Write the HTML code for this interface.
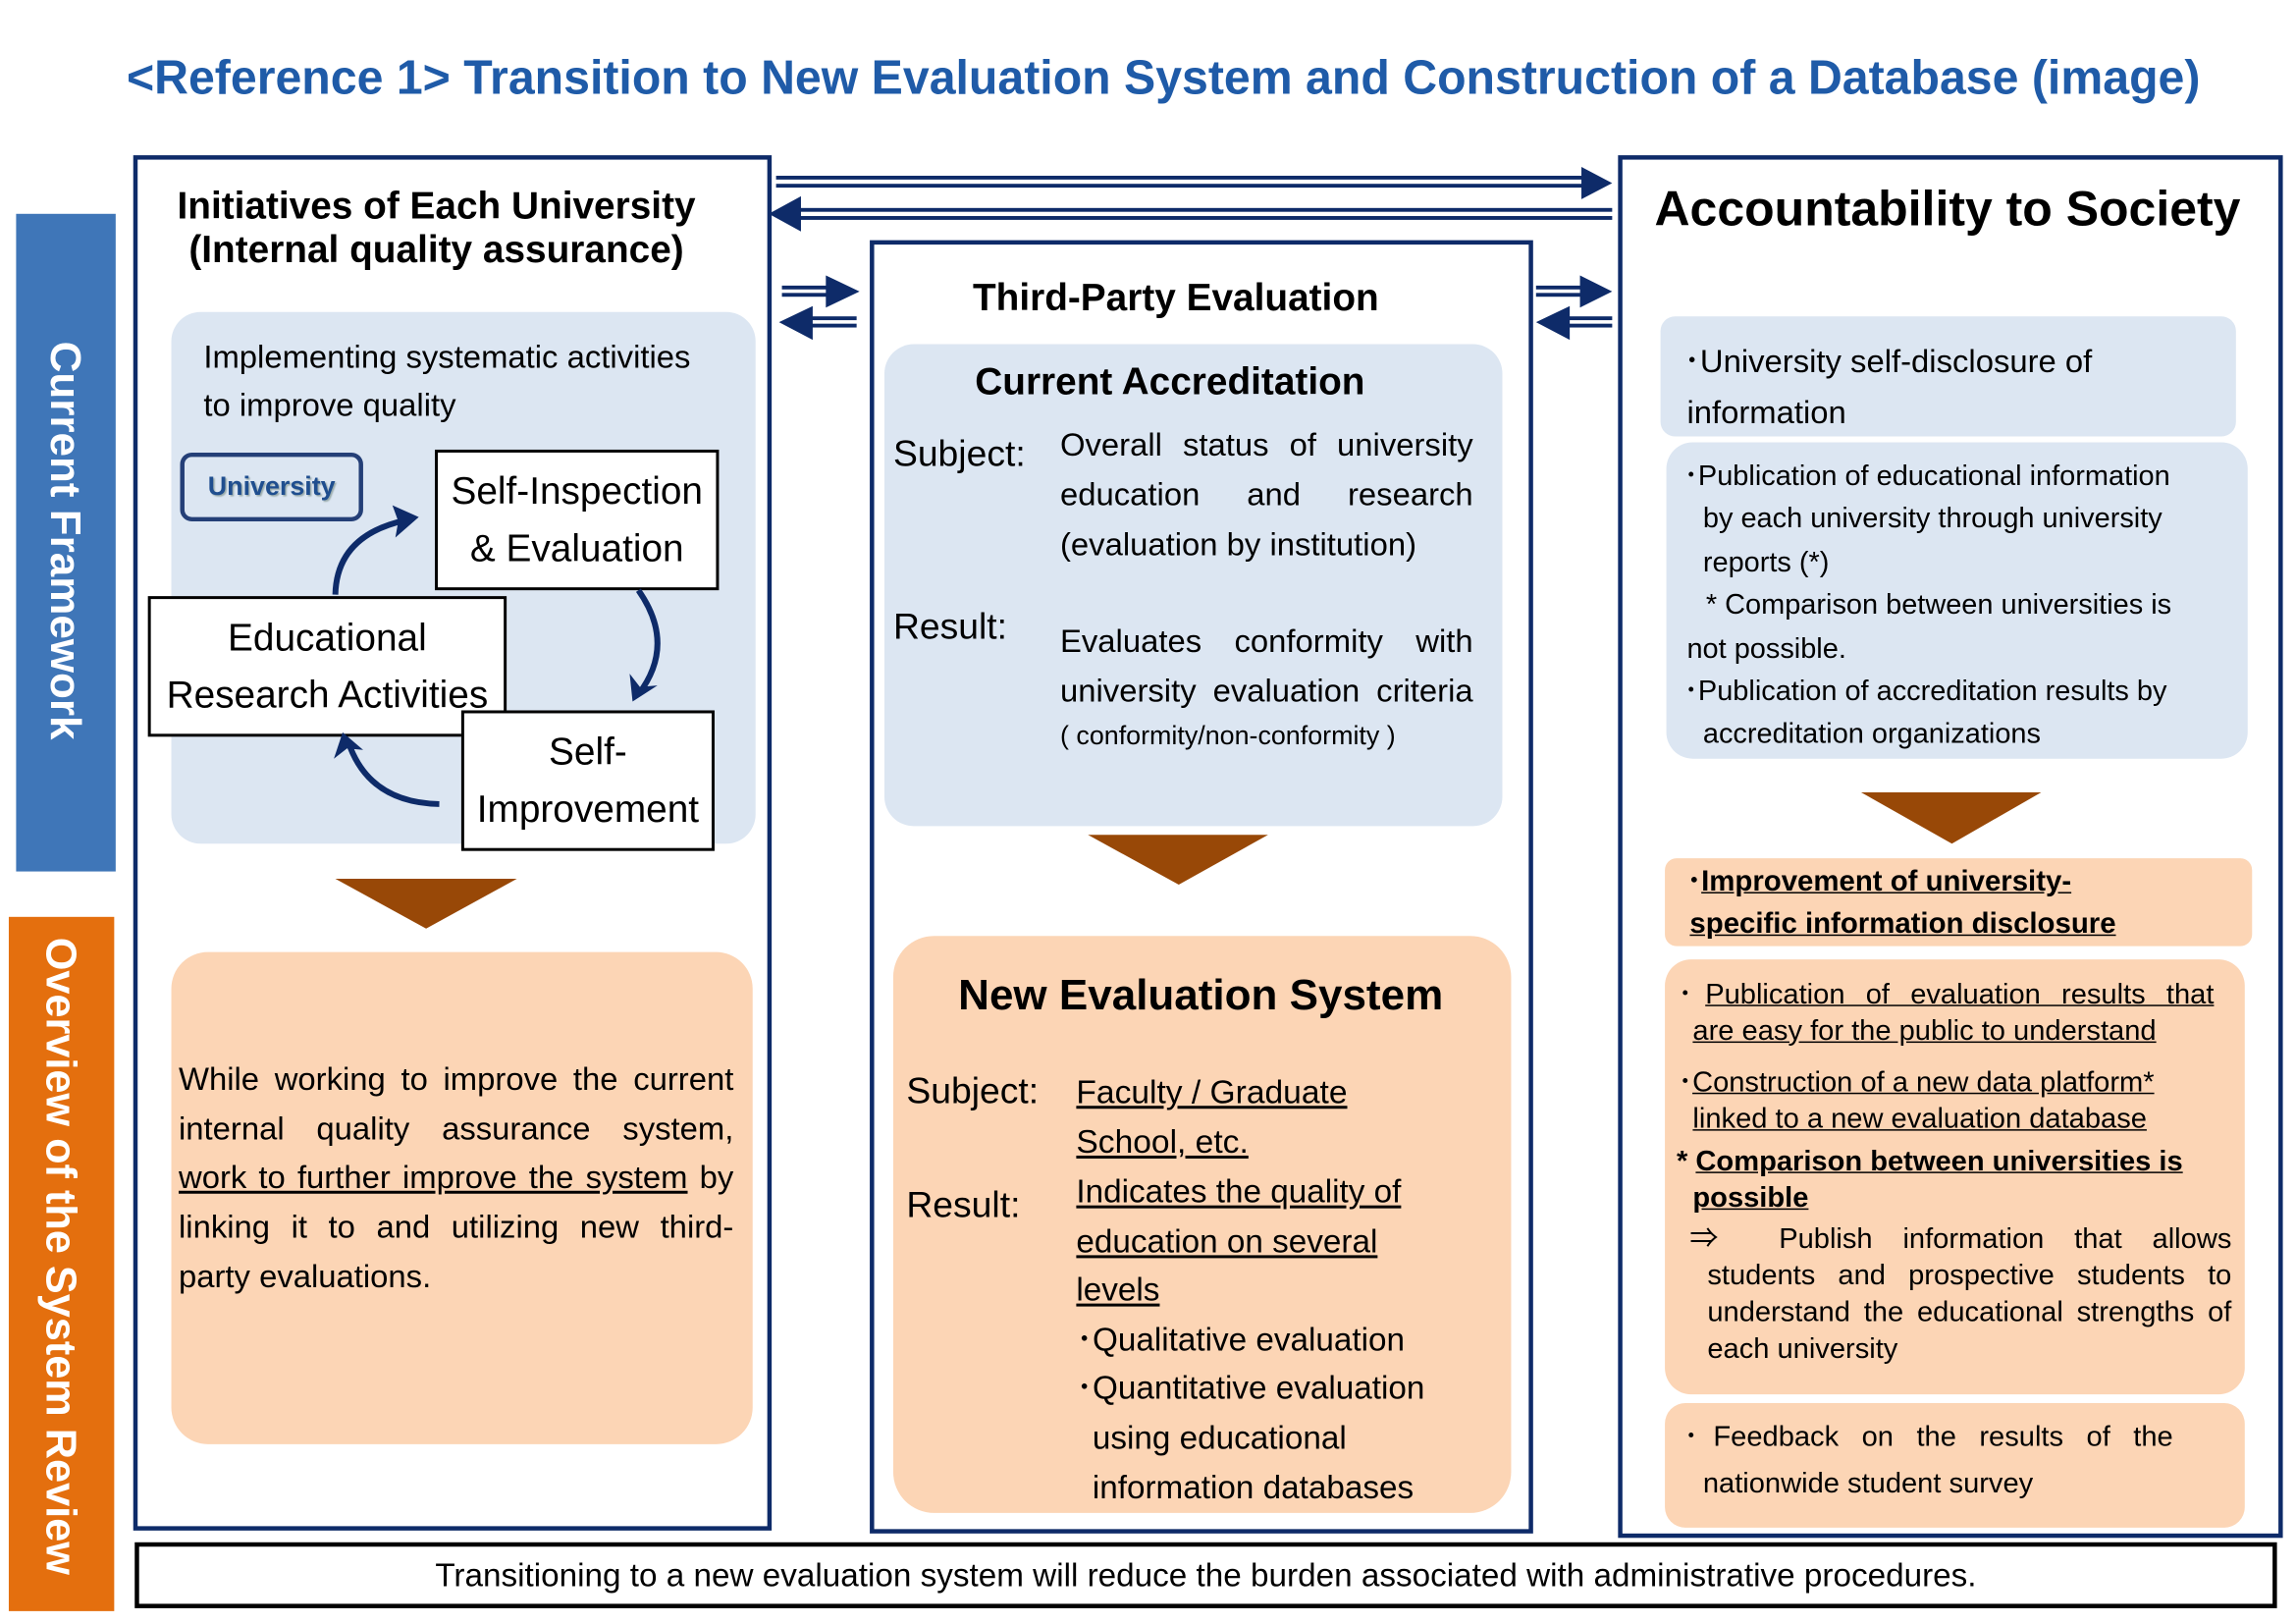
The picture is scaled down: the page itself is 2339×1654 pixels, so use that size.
<!DOCTYPE html>
<html><head><meta charset="utf-8"><style>
html,body{margin:0;padding:0;background:#fff;}
body{width:2339px;height:1654px;overflow:hidden;position:relative;}
#c{position:absolute;left:0;top:0;width:1568px;height:1109px;transform:scale(1.49171);transform-origin:0 0;font-family:"Liberation Sans","Noto Sans CJK JP",sans-serif;color:#000;}
.a{position:absolute;}
.box{position:absolute;box-sizing:border-box;}
.nav{border:3px solid #0e2b69;background:#fff;}
.lb{background:#dce6f2;}
.or{background:#fcd5b5;}
.wb{background:#fff;border:2px solid #000;display:flex;align-items:center;justify-content:center;text-align:center;font-size:26px;line-height:39px;white-space:nowrap;}
.j{text-align:justify;text-align-last:justify;white-space:nowrap;}
.u{text-decoration:underline;}
.b{font-weight:bold;}
.vt{writing-mode:vertical-rl;color:#fff;font-weight:bold;position:absolute;white-space:nowrap;}
</style></head><body><div id="c">

<div class="a" style="left:0;top:34px;width:1590px;text-align:center;"><span style="display:inline-block;font-size:33px;font-weight:bold;color:#1f5ba8;transform:scaleX(0.98);white-space:nowrap;">&lt;Reference 1&gt; Transition to New Evaluation System and Construction of a Database (image)</span></div>

<div class="box" style="left:11px;top:146px;width:68px;height:449px;background:#3f76b8;"></div>
<div class="vt" style="left:28px;top:233px;font-size:29.5px;line-height:32px;">Current Framework</div>
<div class="box" style="left:6px;top:626px;width:72px;height:474px;background:#e46f0e;"></div>
<div class="vt" style="left:25px;top:640px;font-size:29px;line-height:32px;">Overview of the System Review</div>

<div class="box nav" style="left:91px;top:106px;width:436px;height:939px;"></div>
<div class="box nav" style="left:594px;top:164px;width:453px;height:883px;"></div>
<div class="box nav" style="left:1105px;top:106px;width:454px;height:944px;"></div>

<!-- LEFT -->
<div class="a b" style="left:60px;top:125px;width:476px;text-align:center;font-size:26px;line-height:30px;">Initiatives of Each University<br>(Internal quality assurance)</div>
<div class="box lb" style="left:117px;top:213px;width:399px;height:363px;border-radius:20px;"></div>
<div class="a" style="left:139px;top:227px;font-size:22px;line-height:33px;white-space:nowrap;">Implementing systematic activities<br>to improve quality</div>
<div class="box" style="left:123px;top:309px;width:125px;height:47px;border:3px solid #243f77;border-radius:8px;display:flex;align-items:center;justify-content:center;color:#1f4e8f;font-weight:bold;font-size:18px;text-shadow:1px 1px 1px #9aa;">University</div>
<div class="box wb" style="left:297px;top:307px;width:194px;height:96px;">Self-Inspection<br>&amp; Evaluation</div>
<div class="box wb" style="left:101px;top:407px;width:245px;height:96px;">Educational<br>Research Activities</div>
<div class="box wb" style="left:315px;top:485px;width:173px;height:96px;">Self-<br>Improvement</div>
<div class="box or" style="left:117px;top:650px;width:397px;height:336px;border-radius:25px;"></div>
<div class="a" style="left:122px;top:720px;width:379px;font-size:22px;line-height:33.7px;">
<div class="j">While working to improve the current</div>
<div class="j">internal quality assurance system,</div>
<div class="j"><span class="u">work to further improve the system</span> by</div>
<div class="j">linking it to and utilizing new third-</div>
<div>party evaluations.</div></div>

<!-- MIDDLE -->
<div class="a b" style="left:603px;top:188px;width:400px;text-align:center;font-size:26px;line-height:30px;">Third-Party Evaluation</div>
<div class="box lb" style="left:604px;top:235px;width:422px;height:329px;border-radius:20px;"></div>
<div class="a b" style="left:599px;top:245px;width:400px;text-align:center;font-size:26px;line-height:30px;">Current Accreditation</div>
<div class="a" style="left:610px;top:295px;font-size:25px;line-height:30px;">Subject:</div>
<div class="a" style="left:724px;top:287px;width:282px;font-size:22px;line-height:34px;">
<div class="j">Overall status of university</div><div class="j">education and research</div><div style="white-space:nowrap">(evaluation by institution)</div></div>
<div class="a" style="left:610px;top:413px;font-size:25px;line-height:30px;">Result:</div>
<div class="a" style="left:724px;top:421px;width:282px;font-size:22px;line-height:34px;">
<div class="j">Evaluates conformity with</div><div class="j">university evaluation criteria</div></div>
<div class="a" style="left:724px;top:491px;font-size:18px;line-height:22px;white-space:nowrap;">( conformity/non-conformity )</div>

<div class="box or" style="left:610px;top:639px;width:422px;height:394px;border-radius:28px;"></div>
<div class="a b" style="left:620px;top:663px;width:400px;text-align:center;font-size:29.5px;line-height:34px;white-space:nowrap;">New Evaluation System</div>
<div class="a" style="left:619px;top:730px;font-size:25px;line-height:30px;">Subject:</div>
<div class="a u" style="left:735px;top:729px;font-size:22.5px;line-height:34px;white-space:nowrap;">Faculty / Graduate<br>School, etc.</div>
<div class="a" style="left:619px;top:808px;font-size:25px;line-height:30px;">Result:</div>
<div class="a" style="left:735px;top:797px;font-size:22.3px;line-height:33.6px;white-space:nowrap;">
<div class="u">Indicates the quality of</div><div class="u">education on several</div><div class="u">levels</div>
<div>･Qualitative evaluation</div><div>･Quantitative evaluation</div><div style="padding-left:11px;">using educational</div><div style="padding-left:11px;">information databases</div></div>

<!-- RIGHT -->
<div class="a b" style="left:1115px;top:125px;width:430px;text-align:center;font-size:33.5px;line-height:38px;white-space:nowrap;">Accountability to Society</div>
<div class="box lb" style="left:1134px;top:216px;width:393px;height:82px;border-radius:10px;"></div>
<div class="a" style="left:1150px;top:229px;font-size:22px;line-height:35px;white-space:nowrap;">･University self-disclosure of<br><span style="padding-left:2px">information</span></div>
<div class="box lb" style="left:1138px;top:302px;width:397px;height:216px;border-radius:18px;"></div>
<div class="a" style="left:1150px;top:311px;font-size:19.4px;line-height:29.4px;white-space:nowrap;">
<div>･Publication of educational information</div>
<div style="padding-left:13px">by each university through university</div>
<div style="padding-left:13px">reports (*)</div>
<div style="padding-left:15px">* Comparison between universities is</div>
<div style="padding-left:2px">not possible.</div>
<div>･Publication of accreditation results by</div>
<div style="padding-left:13px">accreditation organizations</div></div>

<div class="box or" style="left:1137px;top:586px;width:401px;height:60px;border-radius:8px;"></div>
<div class="a b" style="left:1152px;top:588px;font-size:19.7px;line-height:29px;white-space:nowrap;">･<span class="u">Improvement of university-</span><br><span class="u" style="padding-left:2px">specific information disclosure</span></div>

<div class="box or" style="left:1137px;top:655px;width:396px;height:297px;border-radius:18px;"></div>
<div class="a" style="left:1146px;top:667px;width:366px;font-size:19.5px;line-height:24.5px;">
<div class="j">･<span class="u">Publication of evaluation results that</span></div>
<div style="padding-left:10px;white-space:nowrap" class="u">are easy for the public to understand</div>
<div style="height:11px"></div>
<div style="white-space:nowrap">･<span class="u">Construction of a new data platform*</span></div>
<div style="padding-left:10px;white-space:nowrap" class="u">linked to a new evaluation database</div></div>
<div class="a b" style="left:1145px;top:781px;font-size:19.5px;line-height:25px;white-space:nowrap;">* <span class="u">Comparison between universities is</span><br><span class="u" style="padding-left:11px">possible</span></div>
<div class="a" style="left:1154px;top:834px;width:370px;font-size:19.5px;line-height:25px;">
<div class="j">⇒&nbsp; Publish information that allows</div>
<div style="padding-left:12px" class="j">students and prospective students to</div>
<div style="padding-left:12px" class="j">understand the educational strengths of</div>
<div style="padding-left:12px">each university</div></div>

<div class="box or" style="left:1137px;top:958px;width:396px;height:85px;border-radius:14px;"></div>
<div class="a" style="left:1150px;top:965px;width:334px;font-size:19.5px;line-height:32px;">
<div class="j">･Feedback on the results of the</div><div style="padding-left:13px;white-space:nowrap">nationwide student survey</div></div>

<div class="box" style="left:92px;top:1053px;width:1463px;height:45px;border:3px solid #000;display:flex;align-items:center;justify-content:center;font-size:22.3px;white-space:nowrap;">Transitioning to a new evaluation system will reduce the burden associated with administrative procedures.</div>

<svg class="a" style="left:0;top:0" width="1568" height="1109" viewBox="0 0 1568 1109">
<g fill="#984807">
<polygon points="229,600 353,600 291,634"/>
<polygon points="743,570 866,570 805,604"/>
<polygon points="1271,541 1394,541 1333,576"/>
</g>
<g fill="#0e2b69" stroke="none">
<rect x="530" y="120" width="552" height="2.6"/><rect x="530" y="125.5" width="552" height="2.6"/>
<polygon points="1080,114 1101,125 1080,136"/>
<rect x="545" y="142" width="556" height="2.6"/><rect x="545" y="147.5" width="556" height="2.6"/>
<polygon points="547,134 525,146 547,158"/>
<rect x="534" y="195" width="32" height="2.6"/><rect x="534" y="200" width="32" height="2.6"/>
<polygon points="564,188 587,199 564,210"/>
<rect x="553" y="216" width="32" height="2.6"/><rect x="553" y="221" width="32" height="2.6"/>
<polygon points="555,209 532,220 555,232"/>
<rect x="1049" y="195" width="32" height="2.6"/><rect x="1049" y="200" width="32" height="2.6"/>
<polygon points="1079,188 1101,199 1079,210"/>
<rect x="1070" y="216" width="31" height="2.6"/><rect x="1070" y="221" width="31" height="2.6"/>
<polygon points="1072,209 1049,220 1072,232"/>
</g>
<g fill="none" stroke="#0e2b69" stroke-width="4">
<path d="M229,406 Q230,365 278,355"/>
<path d="M436,403 Q462,440 436,474"/>
<path d="M300,549 Q252,548 238,507"/>
</g>
<g fill="#0e2b69">
<polygon points="286,353 268,345 272,356 270,367"/>
<polygon points="432,479 430,460 437,469 449,468"/>
<polygon points="234,500 228,518 237,511 248,512"/>
</g>
</svg>
</div></body></html>
